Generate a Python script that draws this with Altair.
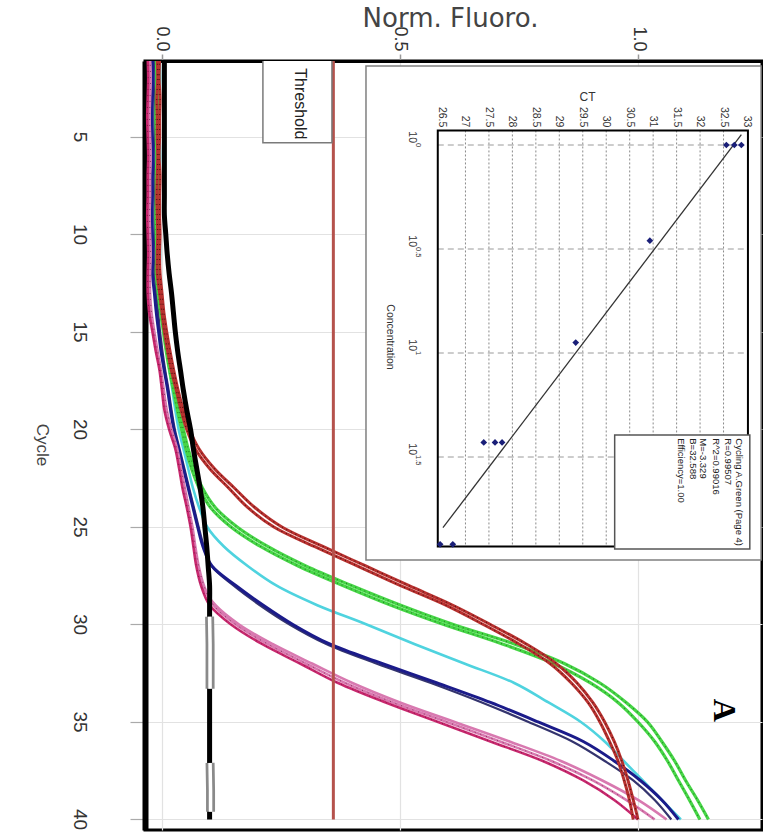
import altair as alt
import pandas as pd

# ---------------- data ----------------
CYCLES = list(range(1, 41))
CYCLE_TICKS = [5, 10, 15, 20, 25, 30, 35, 40]
FLUORO_TICKS = [0.0, 0.5, 1.0]

RED_A = [-0.010, -0.009, -0.011, -0.010, -0.010, -0.009, -0.010, -0.011, -0.010, -0.009, -0.010, -0.010,
         -0.005, 0.000, 0.005, 0.012, 0.020, 0.030, 0.040, 0.052, 0.070, 0.100, 0.140, 0.180,
         0.235, 0.320, 0.410, 0.500, 0.595, 0.675, 0.750, 0.815, 0.860, 0.895, 0.920, 0.940,
         0.958, 0.971, 0.982, 0.990]
RED_B = [-0.005, -0.006, -0.004, -0.005, -0.005, -0.006, -0.004, -0.005, -0.005, -0.004, -0.005, -0.004,
         0.000, 0.004, 0.010, 0.017, 0.025, 0.034, 0.045, 0.058, 0.078, 0.110, 0.152, 0.195,
         0.252, 0.338, 0.428, 0.518, 0.610, 0.690, 0.765, 0.828, 0.872, 0.905, 0.930, 0.950,
         0.966, 0.979, 0.990, 1.000]
GREEN_A = [-0.008, -0.007, -0.008, -0.009, -0.008, -0.007, -0.008, -0.008, -0.009, -0.008, -0.007, -0.008,
           -0.004, 0.000, 0.006, 0.012, 0.020, 0.028, 0.036, 0.045, 0.055, 0.068, 0.085, 0.112,
           0.158, 0.222, 0.302, 0.398, 0.500, 0.612, 0.740, 0.845, 0.920, 0.975, 1.020, 1.050,
           1.077, 1.100, 1.125, 1.148]
GREEN_B = [-0.012, -0.011, -0.012, -0.013, -0.012, -0.011, -0.012, -0.012, -0.013, -0.012, -0.011, -0.012,
           -0.008, -0.003, 0.003, 0.009, 0.016, 0.024, 0.032, 0.041, 0.050, 0.062, 0.078, 0.102,
           0.145, 0.207, 0.286, 0.380, 0.480, 0.592, 0.715, 0.822, 0.900, 0.958, 1.000, 1.035,
           1.062, 1.085, 1.108, 1.130]
CYAN_A = [-0.005, -0.004, -0.005, -0.006, -0.005, -0.004, -0.005, -0.005, -0.006, -0.005, -0.004, -0.005,
          -0.002, 0.000, 0.005, 0.010, 0.016, 0.022, 0.028, 0.035, 0.045, 0.055, 0.065, 0.078,
          0.095, 0.130, 0.180, 0.240, 0.325, 0.430, 0.530, 0.635, 0.740, 0.812, 0.880, 0.930,
          0.970, 1.010, 1.050, 1.090]
NAVY_A = [-0.020, -0.019, -0.020, -0.021, -0.020, -0.019, -0.020, -0.020, -0.021, -0.020, -0.019, -0.020,
          -0.016, -0.012, -0.007, -0.002, 0.005, 0.012, 0.018, 0.025, 0.035, 0.045, 0.055, 0.065,
          0.075, 0.086, 0.105, 0.155, 0.212, 0.275, 0.352, 0.462, 0.578, 0.690, 0.790, 0.885,
          0.950, 1.005, 1.050, 1.085]
NAVY_B = [-0.015, -0.014, -0.015, -0.016, -0.015, -0.014, -0.015, -0.015, -0.016, -0.015, -0.014, -0.015,
          -0.012, -0.008, -0.004, 0.001, 0.007, 0.014, 0.020, 0.027, 0.037, 0.047, 0.057, 0.067,
          0.077, 0.088, 0.104, 0.150, 0.205, 0.268, 0.345, 0.450, 0.565, 0.672, 0.770, 0.862,
          0.930, 0.990, 1.035, 1.070]
MAG_A = [-0.030, -0.029, -0.030, -0.031, -0.030, -0.029, -0.030, -0.030, -0.031, -0.030, -0.029, -0.030, -0.030,
         -0.027, -0.020, -0.013, -0.005, 0.000, 0.005, 0.015, 0.028, 0.036, 0.043, 0.052,
         0.060, 0.066, 0.072, 0.082, 0.100, 0.145, 0.210, 0.290, 0.370, 0.470, 0.580, 0.690,
         0.800, 0.885, 0.950, 1.000]
MAG_B = [-0.025, -0.024, -0.025, -0.026, -0.025, -0.024, -0.025, -0.025, -0.026, -0.025, -0.024, -0.025, -0.025,
         -0.022, -0.016, -0.009, -0.002, 0.004, 0.010, 0.020, 0.032, 0.040, 0.048, 0.056,
         0.064, 0.070, 0.077, 0.088, 0.108, 0.155, 0.222, 0.302, 0.385, 0.485, 0.598, 0.710,
         0.818, 0.905, 0.975, 1.035]
MAG_C = [-0.028, -0.027, -0.028, -0.029, -0.028, -0.027, -0.028, -0.028, -0.029, -0.028, -0.027, -0.028, -0.028,
         -0.024, -0.018, -0.011, -0.003, 0.002, 0.008, 0.018, 0.030, 0.038, 0.046, 0.054,
         0.062, 0.068, 0.075, 0.085, 0.112, 0.162, 0.232, 0.315, 0.400, 0.500, 0.615, 0.730,
         0.838, 0.925, 1.000, 1.060]
NTC_BLACK = [0.005, 0.005, 0.005, 0.005, 0.005, 0.005, 0.005, 0.005, 0.005, 0.008, 0.011, 0.015,
             0.020, 0.024, 0.028, 0.033, 0.039, 0.045, 0.052, 0.060, 0.066, 0.073, 0.080, 0.086,
             0.090, 0.094, 0.097, 0.100, 0.100, 0.100, 0.100, 0.100, 0.100, 0.100, 0.100, 0.100,
             0.100, 0.100, 0.100, 0.100]
NTC_GRAY_CYCLES = [29.6, 31.0, 33.3, 37.1, 38.5, 39.6]
NTC_GRAY_VALUES = [0.100, 0.101, 0.101, 0.101, 0.102, 0.102]
NTC_GRAY_SEGMENT = ["a", "a", "a", "b", "b", "b"]
THRESHOLD = 0.36

# inset: standard curve
STD_LOG_CONC = [0.0, 0.0, 0.0, 0.46, 0.95, 1.43, 1.43, 1.43, 1.92, 1.92]
STD_CT = [32.56, 32.73, 32.88, 30.93, 29.35, 27.39, 27.63, 27.78, 26.46, 26.73]
FIT_LOG_CONC = [-0.05, 1.84]
FIT_CT = [32.88, 26.52]
CT_TICKS = [26.5, 27.0, 27.5, 28.0, 28.5, 29.0, 29.5, 30.0, 30.5, 31.0, 31.5, 32.0, 32.5, 33.0]
CT_TICK_LABELS = ["26.5", "27", "27.5", "28", "28.5", "29", "29.5", "30", "30.5", "31", "31.5", "32", "32.5", "33"]
CONC_TICKS = [0.0, 0.5, 1.0, 1.5]
CONC_EXPONENTS = ["0", "0.5", "1", "1.5"]
LEGEND_LINES = ["Cycling A.Green (Page 4)", "R=0.99507", "R^2=0.99016", "M=-3.329", "B=32.588", "Efficiency=1.00"]

series_arrays = {
    "red_a": RED_A, "red_b": RED_B, "green_a": GREEN_A, "green_b": GREEN_B,
    "cyan_a": CYAN_A, "navy_a": NAVY_A, "navy_b": NAVY_B,
    "mag_a": MAG_A, "mag_b": MAG_B, "mag_c": MAG_C, "ntc": NTC_BLACK,
}
for k, arr in series_arrays.items():
    assert len(arr) == len(CYCLES), k

curves = pd.DataFrame([
    {"series": s, "cycle": c, "value": v}
    for s, arr in series_arrays.items() for c, v in zip(CYCLES, arr)
])
gray = pd.DataFrame({"cycle": NTC_GRAY_CYCLES, "value": NTC_GRAY_VALUES, "seg": NTC_GRAY_SEGMENT})

# ---------------- layout / styling ----------------
W, H = 617, 769
XMIN, XMAX = -0.0357, 1.2605
YMIN, YMAX = 1.1026, 40.54
KX = (XMAX - XMIN) / W
KY = (YMAX - YMIN) / H
SANS = "Liberation Sans, Arial, sans-serif"
XS = alt.Scale(domain=[XMIN, XMAX], nice=False, zero=False)
YS = alt.Scale(domain=[YMIN, YMAX], nice=False, zero=False, reverse=True)

X_AXIS = alt.Axis(orient="top", values=FLUORO_TICKS, format=".1f", labelAngle=90, labelAlign="right",
                  labelBaseline="middle", labelFontSize=18, labelFont=SANS, labelColor="#333",
                  labelPadding=3, tickSize=7, tickColor="#999", tickWidth=1.5, domainColor="black",
                  domainWidth=3, grid=True, gridColor="#e2e2e2", gridWidth=1.2, labelOverlap=False,
                  title="Norm. Fluoro.", titleFont="DejaVu Sans", titleFontSize=26, titleFontWeight="normal",
                  titleColor="#444", titleX=305, titleY=-43, titleAngle=0, titleAlign="center",
                  titleBaseline="middle")
# y tick labels and title are drawn as rotated text marks below
Y_AXIS = alt.Axis(orient="left", values=CYCLE_TICKS, labels=False, tickSize=15, tickColor="#aaa",
                  tickWidth=1.2, domainColor="black", domainWidth=6, grid=True, gridColor="#e2e2e2",
                  gridWidth=1.2, title="")


def px(f):
    return alt.X(f, type="quantitative", scale=XS, axis=X_AXIS)


def py(f):
    return alt.Y(f, type="quantitative", scale=YS, axis=Y_AXIS)


def curve_layer(names, color, width, dash=None, opacity=1.0):
    kw = dict(color=color, strokeWidth=width, interpolate="catmull-rom", clip=True, opacity=opacity)
    if dash:
        kw["strokeDash"] = dash
    return alt.Chart(curves).transform_filter(
        alt.FieldOneOfPredicate(field="series", oneOf=names)
    ).mark_line(**kw).encode(x=px("value"), y=py("cycle"), detail="series:N", order="cycle:Q")


layers = [
    curve_layer(["cyan_a"], "#4fd3df", 2.6),
    curve_layer(["navy_b"], "#34346e", 2.2),
    curve_layer(["navy_a"], "#1b1b8a", 3.0),
    curve_layer(["mag_b", "mag_c"], "#d879b0", 2.6),
    curve_layer(["mag_a"], "#c8286e", 2.6),
    curve_layer(["mag_a", "mag_b"], "#6a1038", 1.0, dash=[1, 5], opacity=0.7),
    curve_layer(["green_a", "green_b"], "#46d646", 3.2),
    curve_layer(["green_a", "green_b"], "#1d6b1d", 1.2, dash=[1, 4], opacity=0.8),
    curve_layer(["red_a", "red_b"], "#b8312f", 3.0),
    curve_layer(["red_a", "red_b"], "#3d0a0a", 1.2, dash=[1, 4], opacity=0.8),
    curve_layer(["ntc"], "black", 5.0),
    alt.Chart(gray).mark_line(color="#8a8a8a", strokeWidth=9, clip=True).encode(
        x=px("value"), y=py("cycle"), detail="seg:N", order="cycle:Q"),
    alt.Chart(gray).mark_line(color="white", strokeWidth=3.5, clip=True).encode(
        x=px("value"), y=py("cycle"), detail="seg:N", order="cycle:Q"),
]

thr_df = pd.DataFrame({"value": [THRESHOLD], "c0": [YMIN], "c1": [40.0]})
layers.append(
    alt.Chart(thr_df).mark_rule(color="#b5524c", strokeWidth=3).encode(
        x=px("value"), y=py("c0"), y2="c1")
)
tb = pd.DataFrame({"x0": [0.212], "x1": [0.357], "y0": [0.9], "y1": [5.3]})
layers.append(
    alt.Chart(tb).mark_rect(fill="white", stroke="#7a7a7a", strokeWidth=1.5, clip=True).encode(
        x=px("x0"), x2="x1", y=py("y0"), y2="y1")
)
tt = pd.DataFrame({"x": [0.29], "y": [3.3], "label": ["Threshold"]})
layers.append(
    alt.Chart(tt).mark_text(angle=90, font=SANS, fontSize=16, color="#222", align="center",
                            baseline="middle").encode(x=px("x"), y=py("y"), text="label:N")
)
at = pd.DataFrame({"x": [1.18], "y": [34.4], "label": ["A"]})
layers.append(
    alt.Chart(at).mark_text(angle=90, font="Liberation Serif, DejaVu Serif, serif", fontSize=32,
                            fontWeight="bold", color="black", align="center", baseline="middle").encode(
        x=px("x"), y=py("y"), text="label:N")
)

# rotated cycle tick labels and axis title (left margin, 80 px and 42 px from the page edge)
LABEL_X = XMIN + (80 - 145) * KX
TITLE_X = XMIN + (42 - 145) * KX
yl = pd.DataFrame({"y": CYCLE_TICKS, "x": LABEL_X, "label": [str(c) for c in CYCLE_TICKS]})
layers.append(alt.Chart(yl).mark_text(angle=90, font=SANS, fontSize=19, color="#333", align="center",
                                      baseline="middle").encode(x=px("x"), y=py("y"), text="label:N"))
yt = pd.DataFrame({"y": [YMIN + (445 - 61) * KY], "x": [TITLE_X], "label": ["Cycle"]})
layers.append(alt.Chart(yt).mark_text(angle=90, font=SANS, fontSize=17, color="#444", align="center",
                                      baseline="middle").encode(x=px("x"), y=py("y"), text="label:N"))

# ---------------- inset (standard curve), placed through the main scales ----------------
# inset's own linear scales, in pixels of the plot area: CT 26.5 -> 297 px (+305/6.5 px per CT),
# log10(concentration) 0 -> 84 px (+208 px per decade); converted to main-scale units.
IN_X0, IN_XK = 297.0, 305.0 / 6.5
IN_Y0, IN_YK = 84.0, 208.0


def ixe(f):
    return f"{XMIN} + ({IN_X0} + (datum.{f} - 26.5) * {IN_XK}) * {KX}"


def iye(f):
    return f"{YMIN} + ({IN_Y0} + datum.{f} * {IN_YK}) * {KY}"


def inset_rect(df, **mark):
    return alt.Chart(df).transform_calculate(
        X0=ixe("x0"), X1=ixe("x1"), Y0=iye("y0"), Y1=iye("y1")
    ).mark_rect(**mark).encode(x=px("X0"), x2="X1", y=py("Y0"), y2="Y1")


def inset_text(df, **mark):
    return alt.Chart(df).transform_calculate(X=ixe("ct"), Y=iye("lg")).mark_text(**mark).encode(
        x=px("X"), y=py("Y"), text="label:N")


box = pd.DataFrame({"x0": [24.88], "x1": [33.3], "y0": [-0.38], "y1": [1.995]})
layers.append(inset_rect(box, fill="white", stroke="#808080", strokeWidth=1.5))

vgrid = pd.DataFrame({"ct": CT_TICKS[1:-1], "y0": -0.07, "y1": 1.93})
layers.append(alt.Chart(vgrid).transform_calculate(X=ixe("ct"), Y0=iye("y0"), Y1=iye("y1")).mark_rule(
    color="#8a8a8a", strokeWidth=1, strokeDash=[2, 2]).encode(x=px("X"), y=py("Y0"), y2="Y1"))
hgrid = pd.DataFrame({"lg": CONC_TICKS, "x0": 26.41, "x1": 33.02})
layers.append(alt.Chart(hgrid).transform_calculate(Y=iye("lg"), X0=ixe("x0"), X1=ixe("x1")).mark_rule(
    color="#9a9a9a", strokeWidth=1, strokeDash=[6, 4]).encode(y=py("Y"), x=px("X0"), x2="X1"))

frame = pd.DataFrame({"x0": [26.41], "x1": [33.02], "y0": [-0.07], "y1": [1.93]})
layers.append(inset_rect(frame, fill="white", fillOpacity=0, stroke="black", strokeWidth=2))

fit = pd.DataFrame({"lg": FIT_LOG_CONC, "ct": FIT_CT})
layers.append(alt.Chart(fit).transform_calculate(X=ixe("ct"), Y=iye("lg")).mark_line(
    color="#333", strokeWidth=1.3).encode(x=px("X"), y=py("Y"), order="lg:Q"))

pts = pd.DataFrame({"lg": STD_LOG_CONC, "ct": STD_CT})
layers.append(alt.Chart(pts).transform_calculate(X=ixe("ct"), Y=iye("lg")).mark_point(
    shape="diamond", filled=True, size=45, color="#1a1f78", opacity=1).encode(x=px("X"), y=py("Y")))

ctl = pd.DataFrame({"ct": CT_TICKS, "label": CT_TICK_LABELS, "lg": -0.085})
layers.append(inset_text(ctl, angle=90, font=SANS, fontSize=10.5, color="#333", align="right", baseline="middle"))
ctt = pd.DataFrame({"ct": [29.6], "lg": [-0.23], "label": ["CT"]})
layers.append(inset_text(ctt, font=SANS, fontSize=12, color="#333", align="center", baseline="middle"))

cl = pd.DataFrame({"lg": CONC_TICKS, "ct": 25.86, "label": ["10"] * len(CONC_TICKS)})
layers.append(inset_text(cl, angle=90, font=SANS, fontSize=10.5, color="#333", align="right",
                         baseline="middle", dx=-2))
ce = pd.DataFrame({"lg": CONC_TICKS, "ct": 25.86, "label": CONC_EXPONENTS})
layers.append(inset_text(ce, angle=90, font=SANS, fontSize=7.5, color="#333", align="left",
                         baseline="middle", dx=-2, dy=-6))
cot = pd.DataFrame({"ct": [25.39], "lg": [0.923], "label": ["Concentration"]})
layers.append(inset_text(cot, angle=90, font=SANS, fontSize=10.5, color="#333", align="center", baseline="middle"))

lb = pd.DataFrame({"x0": [30.18], "x1": [33.06], "y0": [1.394], "y1": [1.942]})
layers.append(inset_rect(lb, fill="white", stroke="#555", strokeWidth=1.5))
lt = pd.DataFrame({"ct": [32.84, 32.585, 32.33, 32.07, 31.84, 31.585], "lg": 1.41, "label": LEGEND_LINES})
layers.append(inset_text(lt, angle=90, font=SANS, fontSize=9.5, color="#222", align="left", baseline="middle"))

chart = alt.layer(*layers).properties(
    width=W, height=H,
    padding={"left": 145, "top": 61, "right": 1, "bottom": 6},
    autosize=alt.AutoSizeParams(type="none"),
    background="white",
).configure_view(stroke="black", strokeWidth=3)

chart.save("out.html", embed_options={"renderer": "svg", "actions": False})
